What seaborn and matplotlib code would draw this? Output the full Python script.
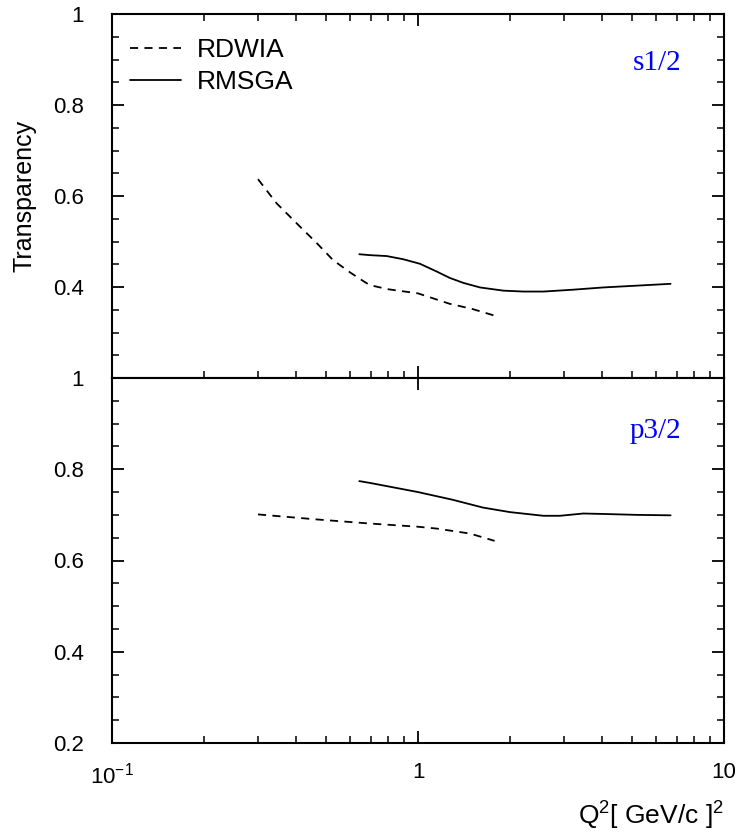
import matplotlib
matplotlib.use("Agg")

import pandas as pd
import matplotlib.pyplot as plt
import seaborn as sns
from matplotlib.ticker import MultipleLocator, FixedLocator, NullFormatter

# Q^2 [GeV/c]^2 and transparency
s12_rdwia_q2 = [0.30, 0.345, 0.411, 0.466, 0.528, 0.60, 0.666, 0.697, 0.80, 1.00, 1.27, 1.50, 1.78]
s12_rdwia_t = [0.637, 0.584, 0.533, 0.497, 0.459, 0.432, 0.412, 0.404, 0.395, 0.386, 0.363, 0.352, 0.337]
s12_rmsga_q2 = [0.643, 0.697, 0.790, 0.895, 1.015, 1.151, 1.27, 1.407, 1.595, 1.90, 2.21, 2.57, 3.20, 4.03, 5.20, 6.69]
s12_rmsga_t = [0.472, 0.470, 0.468, 0.461, 0.451, 0.434, 0.420, 0.409, 0.399, 0.392, 0.390, 0.390, 0.394, 0.399, 0.403, 0.407]

p32_rdwia_q2 = [0.30, 0.467, 0.697, 1.00, 1.15, 1.48, 1.78]
p32_rdwia_t = [0.701, 0.690, 0.681, 0.674, 0.670, 0.659, 0.643]
p32_rmsga_q2 = [0.643, 0.697, 1.00, 1.30, 1.63, 2.00, 2.57, 2.91, 3.47, 4.03, 5.20, 6.69]
p32_rmsga_t = [0.774, 0.770, 0.750, 0.733, 0.716, 0.706, 0.698, 0.698, 0.703, 0.702, 0.700, 0.699]

models = ["RDWIA", "RMSGA"]
panels = ["s1/2", "p3/2"]
top_yticks = [0.4, 0.6, 0.8, 1.0]
top_yticklabels = ["0.4", "0.6", "0.8", "1"]
bot_yticks = [0.2, 0.4, 0.6, 0.8, 1.0]
bot_yticklabels = ["0.2", "0.4", "0.6", "0.8", "1"]
xticks = [0.1, 1, 10]
xticklabels = [r"$10^{-1}$", "1", "10"]


def frame(panel, q2_a, t_a, q2_b, t_b):
    a = pd.DataFrame({"Q2": q2_a, "T": t_a, "model": "RDWIA"})
    b = pd.DataFrame({"Q2": q2_b, "T": t_b, "model": "RMSGA"})
    out = pd.concat([a, b], ignore_index=True)
    out["panel"] = panel
    return out


df = pd.concat([
    frame("s1/2", s12_rdwia_q2, s12_rdwia_t, s12_rmsga_q2, s12_rmsga_t),
    frame("p3/2", p32_rdwia_q2, p32_rdwia_t, p32_rmsga_q2, p32_rmsga_t),
], ignore_index=True)

sns.set_style("ticks")
plt.rcParams["font.family"] = ["Liberation Sans", "DejaVu Sans"]
plt.rcParams["mathtext.fontset"] = "custom"
plt.rcParams["mathtext.rm"] = "Liberation Sans"
plt.rcParams["mathtext.it"] = "Liberation Sans"
plt.rcParams["axes.linewidth"] = 1.5
for key in ["text.color", "axes.labelcolor", "xtick.color", "ytick.color", "axes.edgecolor"]:
    plt.rcParams[key] = "black"

fig = plt.figure(figsize=(7.38, 8.34), dpi=100)
left, right = 112 / 738, 724 / 738
y_top, y_mid, y_bot = 1 - 14 / 834, 1 - 378 / 834, 1 - 743 / 834
ax_top = fig.add_axes([left, y_mid, right - left, y_top - y_mid])
ax_bot = fig.add_axes([left, y_bot, right - left, y_mid - y_bot])

dash_map = {"RDWIA": (4.5, 3.5), "RMSGA": ""}

for ax, panel in zip([ax_top, ax_bot], panels):
    sub = df[df["panel"] == panel]
    sns.lineplot(data=sub, x="Q2", y="T", style="model", style_order=models,
                 dashes=dash_map, color="black", linewidth=1.3, ax=ax,
                 legend=(panel == "s1/2"))
    ax.set_xscale("log")
    ax.set_xlim(0.1, 10)
    ax.set_ylim(0.2, 1.0)
    ax.yaxis.set_minor_locator(MultipleLocator(0.05))
    ax.set_xlabel("")
    ax.set_ylabel("")
    for s in ax.spines.values():
        s.set_visible(True)
        s.set_linewidth(1.5)
    ax.tick_params(which="major", direction="in", length=8.5, width=1.3,
                   left=True, right=True, bottom=True, top=True,
                   labelsize=16, pad=20)
    ax.tick_params(which="minor", direction="in", length=5, width=1.1,
                   left=True, right=True, bottom=True, top=True)
    ax.text(0.93, 0.865 if panel == "s1/2" else 0.855, panel, transform=ax.transAxes,
            ha="right", va="center", color="#0000ff", fontsize=21,
            family="Liberation Serif")

# top panel
ax_top.set_yticks(top_yticks)
ax_top.set_yticklabels(top_yticklabels)
ax_top.xaxis.set_major_locator(FixedLocator(xticks))
ax_top.tick_params(axis="x", labelbottom=False)
ax_top.xaxis.set_minor_formatter(NullFormatter())
ax_top.set_ylabel("Transparency", fontsize=18, labelpad=12)

# bottom panel
ax_bot.set_yticks(bot_yticks)
ax_bot.set_yticklabels(bot_yticklabels)
ax_bot.set_xticks(xticks)
ax_bot.set_xticklabels(xticklabels)
ax_bot.xaxis.set_minor_formatter(NullFormatter())
ax_bot.tick_params(axis="x", which="major", pad=14)
ax_bot.tick_params(axis="x", which="minor", top=False)
ax_bot.set_xlabel(r"Q$^2$[ GeV/c ]$^2$", fontsize=19, loc="right", labelpad=8)

leg = ax_top.legend(loc="upper left", frameon=False, fontsize=19,
                    handlelength=1.9, handletextpad=0.6, labelspacing=0.3,
                    borderaxespad=0.3, bbox_to_anchor=(0.0, 0.985))
for line in leg.get_lines():
    line.set_linewidth(1.3)

fig.savefig("out.png", dpi=100)
